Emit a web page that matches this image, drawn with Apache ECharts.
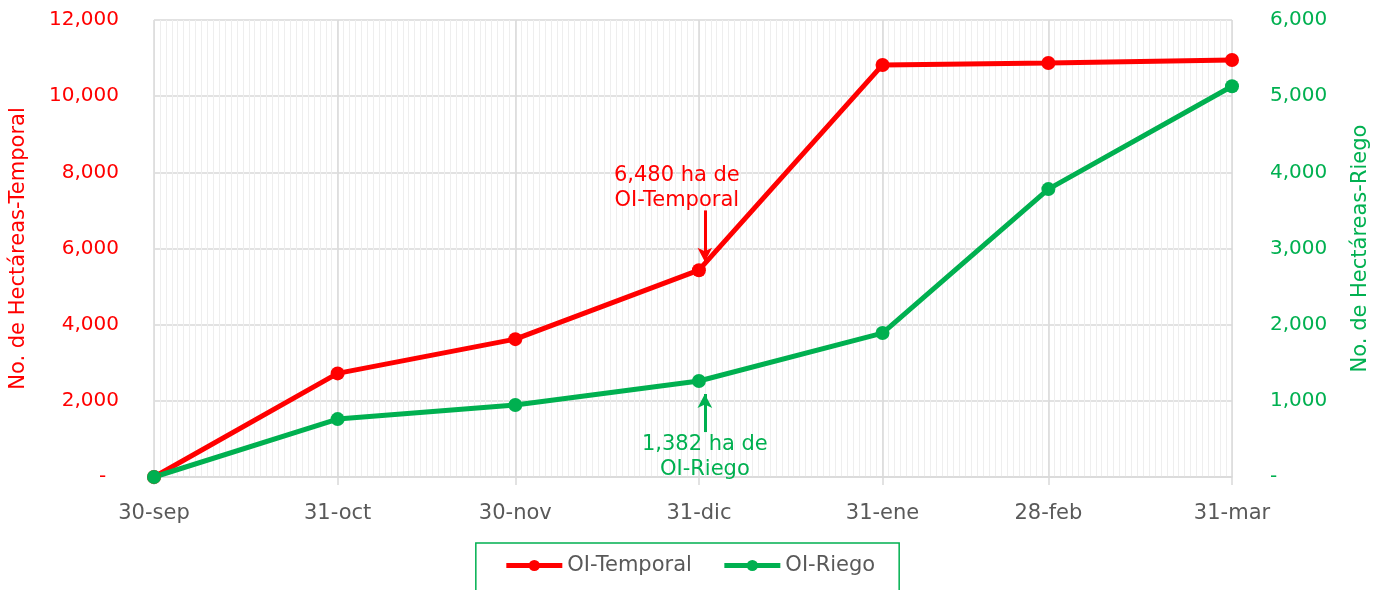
<!DOCTYPE html>
<html>
<head>
<meta charset="utf-8">
<script src="https://cdn.jsdelivr.net/npm/echarts@6/dist/echarts.min.js"></script>
<style>
html,body{margin:0;padding:0;background:#fff;}
#chart{width:1379px;height:590px;}
</style>
</head>
<body>
<div id="chart"></div>
<script>
// ---- data ----
const dates = ['2022-09-30','2022-10-31','2022-11-30','2022-12-31','2023-01-31','2023-02-28','2023-03-31'];
const dateLabels = ['30-sep','31-oct','30-nov','31-dic','31-ene','28-feb','31-mar'];
const temporal = [0, 2720, 3620, 5430, 10820, 10870, 10950];
const riego = [0, 760, 945, 1260, 1890, 3780, 5130];
const leftTicks = [0, 12000, 2000];
const rightTicks = [0, 6000, 1000];
const annotTemporal = ['6,480 ha de\nOI-Temporal', '2023-01-01', 7000, 5650];
const annotRiego = ['1,382 ha de\nOI-Riego', '2023-01-01', 590, 1090];

// ---- build daily category axis ----
const DAY = 86400000;
const t0 = Date.parse(dates[0]);
const nDays = Math.round((Date.parse(dates[dates.length-1]) - t0) / DAY) + 1;
const days = [];
for (let i = 0; i < nDays; i++) days.push(i);
const idxOf = d => Math.round((Date.parse(d) - t0) / DAY);
const majorIdx = dates.map(idxOf);
const labelByIdx = {};
majorIdx.forEach((k, i) => labelByIdx[k] = dateLabels[i]);
const isMajor = (index) => labelByIdx[index] !== undefined;

const RED = '#FF0000', GREEN = '#00B050', GRAY = '#595959';
const FONT = 'DejaVu Sans';
const fmt = v => v === 0 ? '-  ' : v.toLocaleString('en-US');

const chart = echarts.init(document.getElementById('chart'));
chart.setOption({
  backgroundColor: '#fff',
  animation: false,
  textStyle: { fontFamily: FONT },
  grid: { left: 153, right: 145, top: 20, bottom: 113 },
  xAxis: [
    {
      type: 'category', data: days, boundaryGap: false, position: 'bottom',
      axisLine: { show: false }, axisTick: { show: false }, axisLabel: { show: false },
      splitLine: { show: true, interval: 0, lineStyle: { color: '#eeeeee', width: 1 } }
    },
    {
      type: 'category', data: days, boundaryGap: false, position: 'bottom',
      axisLine: { show: true, lineStyle: { color: '#d9d9d9', width: 1.5 } },
      axisTick: { show: true, interval: (i) => isMajor(i), length: 8, lineStyle: { color: '#d9d9d9', width: 1.5 } },
      axisLabel: {
        show: true, interval: (i) => isMajor(i), margin: 26,
        color: GRAY, fontSize: 21, fontFamily: FONT,
        formatter: (v, i) => labelByIdx[i] || ''
      },
      splitLine: { show: true, interval: (i) => isMajor(i), lineStyle: { color: '#d9d9d9', width: 1.5 } }
    }
  ],
  yAxis: [
    {
      type: 'value', position: 'left', min: leftTicks[0], max: leftTicks[1], interval: leftTicks[2],
      name: 'No. de Hectáreas-Temporal', nameLocation: 'middle', nameRotate: 90, nameGap: 125,
      nameTextStyle: { color: RED, fontSize: 21, fontFamily: FONT },
      axisLine: { show: false }, axisTick: { show: false },
      axisLabel: { color: RED, fontSize: 20, margin: 35, formatter: fmt, fontFamily: FONT },
      splitLine: { show: true, lineStyle: { color: '#d9d9d9', width: 1.5 } }
    },
    {
      type: 'value', position: 'right', min: rightTicks[0], max: rightTicks[1], interval: rightTicks[2],
      name: 'No. de Hectáreas-Riego', nameLocation: 'middle', nameRotate: 90, nameGap: 118,
      nameTextStyle: { color: GREEN, fontSize: 21, fontFamily: FONT },
      axisLine: { show: false }, axisTick: { show: false },
      axisLabel: { color: GREEN, fontSize: 20, margin: 38, formatter: fmt, fontFamily: FONT },
      splitLine: { show: false }
    }
  ],
  legend: {
    left: 'center', top: 543,
    data: ['OI-Temporal', 'OI-Riego'],
    itemWidth: 56, itemHeight: 14, itemGap: 30,
    padding: [12, 24, 30, 28],
    borderColor: GREEN, borderWidth: 1.5, borderRadius: 0,
    lineStyle: { width: 5 },
    textStyle: { color: GRAY, fontSize: 21, fontFamily: FONT }
  },
  series: [
    {
      name: 'OI-Temporal', type: 'line', xAxisIndex: 0, yAxisIndex: 0,
      data: dates.map((d, i) => [idxOf(d), temporal[i]]),
      symbol: 'circle', symbolSize: 14, showSymbol: true, showAllSymbol: true,
      lineStyle: { color: RED, width: 5 }, itemStyle: { color: RED },
      markLine: {
        silent: true, symbol: ['none', 'arrow'], symbolSize: [11, 14],
        lineStyle: { color: RED, width: 3, type: 'solid' },
        label: { show: true, position: 'start', distance: -3, padding: [0, 56, 0, 0], color: RED, fontSize: 21, lineHeight: 25, fontFamily: FONT, formatter: annotTemporal[0] },
        data: [[{ coord: [idxOf(annotTemporal[1]), annotTemporal[2]] }, { coord: [idxOf(annotTemporal[1]), annotTemporal[3]] }]]
      }
    },
    {
      name: 'OI-Riego', type: 'line', xAxisIndex: 0, yAxisIndex: 1,
      data: dates.map((d, i) => [idxOf(d), riego[i]]),
      symbol: 'circle', symbolSize: 14, showSymbol: true, showAllSymbol: true,
      lineStyle: { color: GREEN, width: 5 }, itemStyle: { color: GREEN },
      markLine: {
        silent: true, symbol: ['none', 'arrow'], symbolSize: [11, 14],
        lineStyle: { color: GREEN, width: 3, type: 'solid' },
        label: { show: true, position: 'start', distance: 0, color: GREEN, fontSize: 21, lineHeight: 25, fontFamily: FONT, formatter: annotRiego[0] },
        data: [[{ coord: [idxOf(annotRiego[1]), annotRiego[2]] }, { coord: [idxOf(annotRiego[1]), annotRiego[3]] }]]
      }
    }
  ]
});
</script>
</body>
</html>
